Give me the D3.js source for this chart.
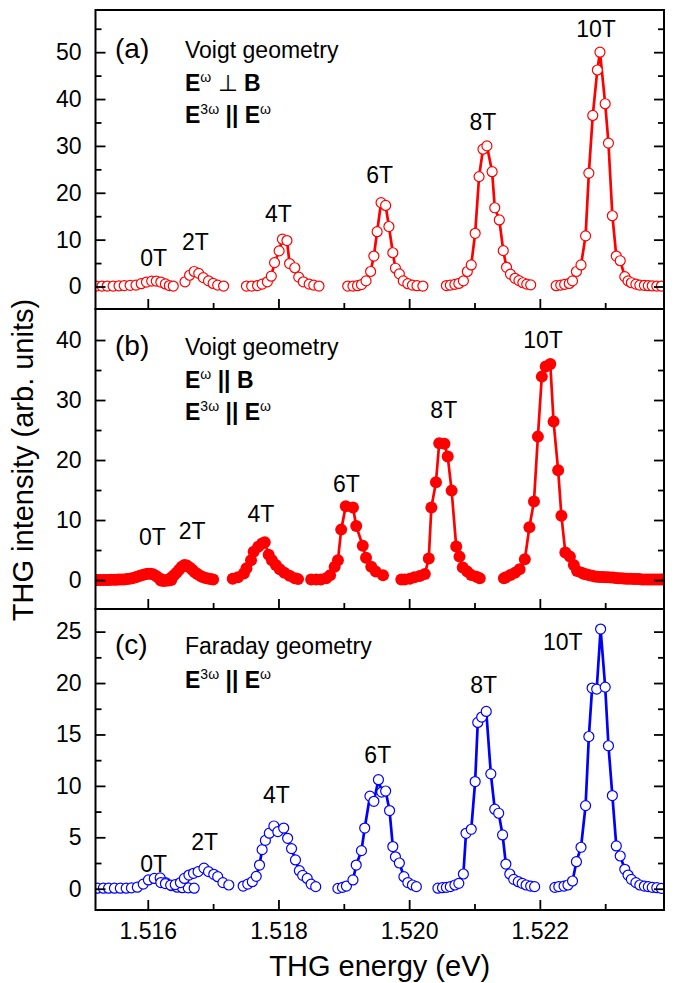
<!DOCTYPE html>
<html lang="en">
<head>
<meta charset="UTF-8">
<title>THG intensity vs energy</title>
<style>
  body { margin: 0; background: #fff; }
  svg text { font-family: "Liberation Sans", Arial, sans-serif; fill: #000; white-space: pre; }
</style>
</head>
<body>
<svg width="684" height="983"></svg>
<script src="https://cdn.jsdelivr.net/npm/d3@7/dist/d3.min.js"></script>
<script>
// THG energy (eV), intensity (arb. units)

// (a) Voigt, E(w) perp B
var a0T = [[1.51521,0.1],[1.51530,0.1],[1.51538,0.1],[1.51547,0.1],[1.51556,0.15],[1.51564,0.2],[1.51573,0.25],[1.51582,0.3],[1.51590,0.6],[1.51598,0.95],[1.51606,1.15],[1.51613,1.15],[1.51620,0.95],[1.51627,0.55],[1.51633,0.2],[1.51639,0.1]];
var a2T = [[1.51657,1.0],[1.51664,2.4],[1.51671,3.2],[1.51678,2.8],[1.51685,1.9],[1.51693,1.2],[1.51700,0.65],[1.51707,0.3],[1.51716,0.1]];
var a4T = [[1.51751,0.1],[1.51759,0.1],[1.51768,0.2],[1.51775,0.5],[1.51783,1.0],[1.51789,2.2],[1.51794,5.1],[1.51801,7.6],[1.51806,10.1],[1.51813,9.8],[1.51817,4.9],[1.51825,4.0],[1.51831,2.0],[1.51838,1.0],[1.51847,0.5],[1.51854,0.3],[1.51862,0.1]];
var a6T = [[1.51906,0.1],[1.51914,0.1],[1.51921,0.17],[1.51927,0.4],[1.51934,1.2],[1.51941,3.2],[1.51946,6.5],[1.51951,11.7],[1.51957,17.9],[1.51964,17.3],[1.51969,12.8],[1.51975,7.2],[1.51979,3.9],[1.51985,2.7],[1.51991,1.2],[1.51998,0.6],[1.52005,0.3],[1.52012,0.17],[1.52021,0.1]];
var a8T = [[1.52057,0.2],[1.52063,0.3],[1.52070,0.45],[1.52076,0.65],[1.52083,1.2],[1.52089,3.2],[1.52095,4.6],[1.52101,11.35],[1.52107,23.45],[1.52113,29.3],[1.52119,30.0],[1.52127,24.5],[1.52131,16.8],[1.52138,14.2],[1.52144,7.65],[1.52149,4.1],[1.52155,2.65],[1.52162,1.75],[1.52168,1.25],[1.52174,0.8],[1.52180,0.5],[1.52186,0.35]];
var a10T = [[1.52225,0.17],[1.52232,0.3],[1.52238,0.45],[1.52245,0.65],[1.52250,1.2],[1.52256,3.2],[1.52263,4.6],[1.52270,10.8],[1.52275,24.2],[1.52281,36.5],[1.52288,46.2],[1.52292,50.0],[1.52300,39.0],[1.52305,30.6],[1.52311,15.1],[1.52317,6.5],[1.52323,5.5],[1.52330,2.1],[1.52335,1.2],[1.52340,0.8],[1.52347,0.5],[1.52353,0.3],[1.52360,0.25],[1.52366,0.17],[1.52372,0.15],[1.52379,0.1],[1.52386,0.1]];

// (b) Voigt, E(w) || B
var b0T = [[1.51520,0],[1.51524,0],[1.51528,0],[1.51532,0],[1.51536,0],[1.51540,0],[1.51544,0.05],[1.51548,0.05],[1.51552,0.05],[1.51556,0.1],[1.51560,0.1],[1.51564,0.1],[1.51568,0.15],[1.51572,0.2],[1.51576,0.3],[1.51580,0.4],[1.51584,0.55],[1.51588,0.7],[1.51592,0.85],[1.51596,0.95],[1.51600,1.05],[1.51604,1.05],[1.51608,0.95],[1.51612,0.7],[1.51616,0.4],[1.51620,0.15],[1.51624,0],[1.51628,-0.1],[1.51632,-0.1],[1.51636,0]];
var b2T = [[1.51620,-0.1],[1.51624,-0.15],[1.51628,-0.1],[1.51632,0.1],[1.51636,0.4],[1.51640,0.8],[1.51644,1.2],[1.51648,1.7],[1.51652,2.2],[1.51656,2.5],[1.51660,2.4],[1.51664,2.1],[1.51668,1.7],[1.51672,1.3],[1.51676,1.0],[1.51680,0.7],[1.51684,0.5],[1.51688,0.35],[1.51692,0.25],[1.51696,0.15],[1.51700,0.1]];
var b4T = [[1.51730,0.2],[1.51738,0.45],[1.51747,1.1],[1.51751,1.95],[1.51758,3.3],[1.51762,4.7],[1.51769,5.56],[1.51775,6.1],[1.51779,6.3],[1.51785,4.2],[1.51790,3.3],[1.51796,2.5],[1.51802,1.8],[1.51809,1.2],[1.51817,0.7],[1.51825,0.3],[1.51830,0.15]];
var b6T = [[1.51850,0.1],[1.51858,0.1],[1.51865,0.1],[1.51873,0.3],[1.51879,0.8],[1.51886,2.2],[1.51891,3.3],[1.51896,8.4],[1.51903,12.3],[1.51914,12.1],[1.51919,9.0],[1.51929,5.7],[1.51934,3.7],[1.51942,2.2],[1.51949,1.4],[1.51960,0.8]];
var b8T = [[1.51988,0.1],[1.51993,0.1],[1.52001,0.2],[1.52008,0.45],[1.52016,0.65],[1.52024,1.0],[1.52030,3.6],[1.52034,12.1],[1.52041,16.3],[1.52046,22.8],[1.52054,22.7],[1.52059,20.6],[1.52065,14.9],[1.52072,5.6],[1.52077,3.9],[1.52082,2.1],[1.52089,1.4],[1.52095,0.85],[1.52103,0.55],[1.52108,0.3]];
var b10T = [[1.52145,0.3],[1.52148,0.45],[1.52155,0.83],[1.52162,1.2],[1.52169,1.8],[1.52177,3.45],[1.52184,8.8],[1.52191,13.1],[1.52197,23.9],[1.52203,33.9],[1.52209,35.6],[1.52216,36.0],[1.52221,26.4],[1.52228,18.3],[1.52233,10.7],[1.52239,4.6],[1.52246,3.9],[1.52252,2.5],[1.52257,1.5],[1.52264,1.2],[1.52268,1.0],[1.52272,0.9],[1.52276,0.8],[1.52280,0.7],[1.52284,0.6],[1.52288,0.55],[1.52292,0.5],[1.52296,0.5],[1.52300,0.45],[1.52304,0.45],[1.52308,0.4],[1.52312,0.4],[1.52316,0.35],[1.52320,0.3],[1.52324,0.3],[1.52328,0.25],[1.52332,0.2],[1.52336,0.2],[1.52340,0.2],[1.52344,0.15],[1.52348,0.15],[1.52352,0.15],[1.52356,0.1],[1.52360,0.1],[1.52364,0.1],[1.52368,0.1],[1.52372,0.1],[1.52376,0.1],[1.52380,0.1],[1.52384,0.1],[1.52388,0.1]];

// (c) Faraday
var c0T = [[1.51523,0.05],[1.51532,0.05],[1.51540,0.05],[1.51549,0.05],[1.51558,0.05],[1.51567,0.05],[1.51575,0.08],[1.51584,0.15],[1.51593,0.45],[1.51601,0.85],[1.51610,1.0],[1.51619,1.05],[1.51627,0.6],[1.51636,0.3],[1.51645,0.15],[1.51653,0.1],[1.51662,0.08],[1.51671,0.05]];
var c2T = [[1.51620,0.6],[1.51627,0.5],[1.51635,0.35],[1.51642,0.4],[1.51650,0.6],[1.51656,1.0],[1.51663,1.33],[1.51670,1.5],[1.51677,1.66],[1.51686,2.0],[1.51693,1.66],[1.51701,1.4],[1.51707,1.17],[1.51715,0.59],[1.51724,0.36]];
var c4T = [[1.51746,0.26],[1.51753,0.45],[1.51760,0.68],[1.51766,1.2],[1.51771,2.3],[1.51775,3.8],[1.51780,4.7],[1.51786,5.4],[1.51793,6.1],[1.51799,5.55],[1.51808,5.9],[1.51814,4.9],[1.51820,3.9],[1.51826,2.8],[1.51832,1.75],[1.51837,1.3],[1.51844,1.0],[1.51850,0.45],[1.51857,0.2]];
var c6T = [[1.51891,0.03],[1.51898,0.13],[1.51904,0.26],[1.51914,0.85],[1.51919,2.3],[1.51927,3.7],[1.51932,5.9],[1.51940,9.0],[1.51946,8.5],[1.51953,10.6],[1.51958,9.4],[1.51964,9.5],[1.51970,7.6],[1.51975,4.1],[1.51979,3.1],[1.51985,2.5],[1.51992,1.17],[1.51998,0.6],[1.52005,0.36],[1.52011,0.2]];
var c8T = [[1.52044,0.05],[1.52051,0.1],[1.52057,0.13],[1.52063,0.2],[1.52070,0.36],[1.52076,0.52],[1.52083,1.43],[1.52087,5.39],[1.52095,5.78],[1.52101,10.42],[1.52105,16.17],[1.52111,16.69],[1.52118,17.24],[1.52125,11.17],[1.52131,7.73],[1.52137,7.34],[1.52143,5.23],[1.52148,2.4],[1.52154,1.43],[1.52160,0.91],[1.52167,0.68],[1.52173,0.52],[1.52179,0.36],[1.52186,0.26],[1.52192,0.2]];
var c10T = [[1.52223,0.13],[1.52229,0.2],[1.52237,0.26],[1.52243,0.36],[1.52250,0.75],[1.52256,2.63],[1.52263,4.03],[1.52270,8.08],[1.52275,14.8],[1.52280,19.51],[1.52287,19.41],[1.52293,25.25],[1.52300,19.6],[1.52305,13.9],[1.52311,9.06],[1.52317,4.16],[1.52323,3.18],[1.52330,1.89],[1.52335,1.33],[1.52340,0.91],[1.52347,0.59],[1.52353,0.36],[1.52360,0.26],[1.52366,0.2],[1.52372,0.13],[1.52379,0.1],[1.52386,0.03]];

var fields = ["0T", "2T", "4T", "6T", "8T", "10T"];
// where each field label sits, in data units [energy, intensity]
var labelsA = [[1.51609,4.4],[1.51673,7.8],[1.51800,13.8],[1.51955,22.1],[1.52113,33.4],[1.52286,53.3]];
var labelsB = [[1.51607,5.8],[1.51668,6.8],[1.51773,9.7],[1.51904,14.7],[1.52053,27.0],[1.52205,38.6]];
var labelsC = [[1.51609,1.66],[1.51687,3.77],[1.51797,8.3],[1.51952,12.2],[1.52114,19.0],[1.52235,23.2]];

var xMajor = [1.516, 1.518, 1.520, 1.522];
var xMinor = [1.517, 1.519, 1.521, 1.523];
var yMajorA = [0, 10, 20, 30, 40, 50], yMinorA = [5, 15, 25, 35, 45, 55];
var yMajorB = [0, 10, 20, 30, 40], yMinorB = [5, 15, 25, 35];
var yMajorC = [0, 5, 10, 15, 20, 25], yMinorC = [2.5, 7.5, 12.5, 17.5, 22.5];

// text blocks: segments [text, style] with b = bold, s = superscript
var textA = [[["Voigt geometry", ""]],
             [["E", "b"], ["\u03c9", "s"], [" \u22a5 ", ""], ["B", "b"]],
             [["E", "b"], ["3\u03c9", "s"], [" || ", "b"], ["E", "b"], ["\u03c9", "s"]]];
var textB = [[["Voigt geometry", ""]],
             [["E", "b"], ["\u03c9", "s"], [" || ", "b"], ["B", "b"]],
             [["E", "b"], ["3\u03c9", "s"], [" || ", "b"], ["E", "b"], ["\u03c9", "s"]]];
var textC = [[["Faraday geometry", ""]],
             [["E", "b"], ["3\u03c9", "s"], [" || ", "b"], ["E", "b"], ["\u03c9", "s"]]];

var svg = d3.select("svg"),
    left = 95.5, right = 664;

svg.append("rect").attr("width", 684).attr("height", 983).attr("fill", "#fff");

var x = d3.scaleLinear().domain([1.5152, 1.5239]).range([left, right]);

var panels = [
    {id: "a", top: 10, bottom: 309, ydom: [-4.8, 59], major: yMajorA, minor: yMinorA,
     series: [a0T, a2T, a4T, a6T, a8T, a10T], labels: labelsA, color: "#ff0000", filled: false,
     tag: "(a)", text: textA, lines: [58, 91, 123]},
    {id: "b", top: 309, bottom: 609, ydom: [-4.83, 45.17], major: yMajorB, minor: yMinorB,
     series: [b0T, b2T, b4T, b6T, b8T, b10T], labels: labelsB, color: "#ff0000", filled: true,
     tag: "(b)", text: textB, lines: [355, 388, 420]},
    {id: "c", top: 609, bottom: 910, ydom: [-2.07, 27.2], major: yMajorC, minor: yMinorC,
     series: [c0T, c2T, c4T, c6T, c8T, c10T], labels: labelsC, color: "#0000ff", filled: false,
     tag: "(c)", text: textC, lines: [654, 688]}
];

function styleAxis(g) {
    g.select(".domain").remove();
    g.selectAll(".tick line").attr("stroke", "#000").attr("stroke-width", 1.8);
    g.attr("font-family", "Liberation Sans, Arial, sans-serif").attr("font-size", 23);
    g.selectAll(".tick text").attr("fill", "#000");
}

panels.forEach(function(p, i) {
    var y = d3.scaleLinear().domain(p.ydom).range([p.bottom, p.top]);

    svg.append("clipPath").attr("id", "clip-" + p.id)
        .append("rect")
        .attr("x", left).attr("y", p.top)
        .attr("width", right - left).attr("height", p.bottom - p.top);

    var plot = svg.append("g").attr("clip-path", "url(#clip-" + p.id + ")");

    var line = d3.line()
        .x(function(d) { return x(d[0]); })
        .y(function(d) { return y(d[1]); });

    p.series.forEach(function(s) {
        plot.append("path")
            .datum(s)
            .attr("d", line)
            .attr("fill", "none")
            .attr("stroke", p.color)
            .attr("stroke-width", 2.7)
            .attr("stroke-linejoin", "round");

        plot.selectAll(null)
            .data(s)
            .enter()
            .append("circle")
            .attr("cx", function(d) { return x(d[0]); })
            .attr("cy", function(d) { return y(d[1]); })
            .attr("r", p.filled ? 6 : 5)
            .attr("fill", p.filled ? p.color : "#fff")
            .attr("stroke", p.color)
            .attr("stroke-width", p.filled ? 0 : 1.2);
    });

    // x ticks (inside), labels only on the bottom panel
    svg.append("g")
        .attr("transform", "translate(0," + p.bottom + ")")
        .call(d3.axisBottom(x).tickValues(xMajor).tickSize(-10).tickPadding(13)
            .tickFormat(i === 2 ? d3.format(".3f") : ""))
        .call(styleAxis);
    svg.append("g")
        .attr("transform", "translate(0," + p.bottom + ")")
        .call(d3.axisBottom(x).tickValues(xMinor).tickSize(-6).tickFormat(""))
        .call(styleAxis);

    // y ticks left and right
    svg.append("g")
        .attr("transform", "translate(" + left + ",0)")
        .call(d3.axisLeft(y).tickValues(p.major).tickSize(-10).tickPadding(14).tickFormat(d3.format("d")))
        .call(styleAxis);
    svg.append("g")
        .attr("transform", "translate(" + left + ",0)")
        .call(d3.axisLeft(y).tickValues(p.minor).tickSize(-6).tickFormat(""))
        .call(styleAxis);
    svg.append("g")
        .attr("transform", "translate(" + right + ",0)")
        .call(d3.axisRight(y).tickValues(p.major).tickSize(-10).tickFormat(""))
        .call(styleAxis);
    svg.append("g")
        .attr("transform", "translate(" + right + ",0)")
        .call(d3.axisRight(y).tickValues(p.minor).tickSize(-6).tickFormat(""))
        .call(styleAxis);

    // frame
    svg.append("rect")
        .attr("x", left).attr("y", p.top)
        .attr("width", right - left).attr("height", p.bottom - p.top)
        .attr("fill", "none").attr("stroke", "#000").attr("stroke-width", 2);

    // field labels
    svg.selectAll(null)
        .data(p.labels)
        .enter()
        .append("text")
        .attr("x", function(d) { return x(d[0]); })
        .attr("y", function(d) { return y(d[1]); })
        .attr("text-anchor", "middle")
        .attr("font-size", 23)
        .text(function(d, k) { return fields[k]; });

    // panel tag and geometry text
    svg.append("text")
        .attr("x", 115).attr("y", p.lines[0])
        .attr("font-size", 28)
        .text(p.tag);

    p.text.forEach(function(segs, k) {
        var t = svg.append("text")
            .attr("x", 185).attr("y", p.lines[k])
            .attr("font-size", 23);
        var raised = false;
        segs.forEach(function(sg) {
            var ts = t.append("tspan").text(sg[0]);
            if (sg[1] === "s") {
                ts.attr("font-size", 14).attr("dy", raised ? 0 : -9);
                raised = true;
            } else {
                if (raised) ts.attr("dy", 9);
                raised = false;
                if (sg[1] === "b") ts.attr("font-weight", "bold");
            }
        });
    });
});

// axis titles
svg.append("text")
    .attr("x", (left + right) / 2).attr("y", 976)
    .attr("text-anchor", "middle")
    .attr("font-size", 29)
    .text("THG energy (eV)");

svg.append("text")
    .attr("transform", "translate(33,460) rotate(-90)")
    .attr("text-anchor", "middle")
    .attr("font-size", 29)
    .text("THG intensity (arb. units)");
</script>
</body>
</html>
